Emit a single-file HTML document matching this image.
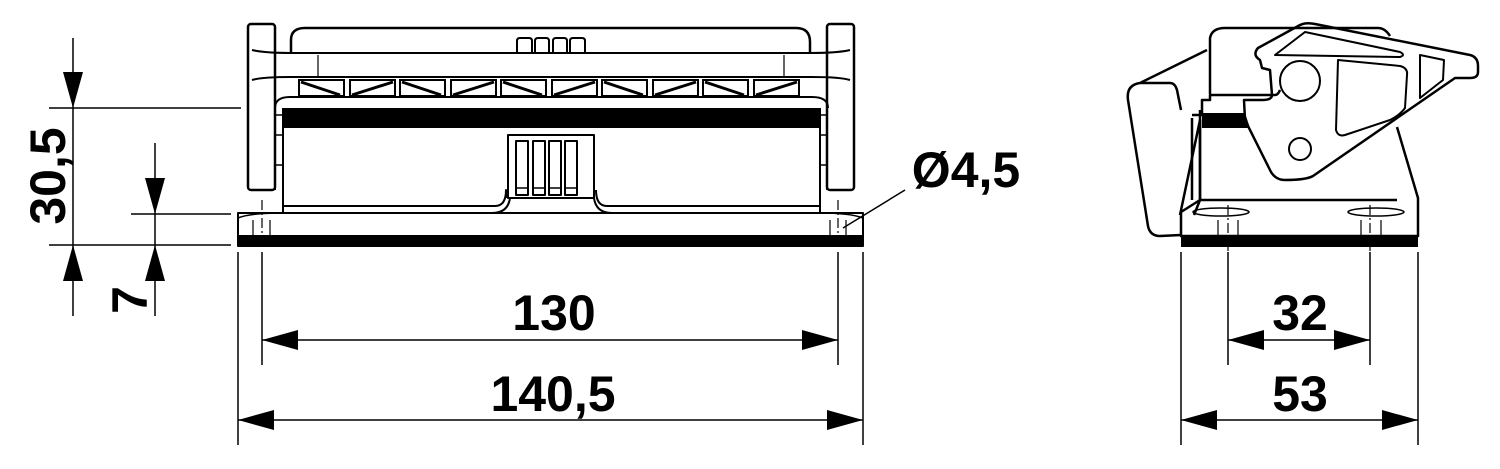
<!DOCTYPE html>
<html><head><meta charset="utf-8"><style>
html,body{margin:0;padding:0;background:#fff;}
svg{display:block}
text{font-family:"Liberation Sans",Arial,sans-serif;font-weight:bold;fill:#000}
</style></head><body>
<svg width="1500" height="469" viewBox="0 0 1500 469" xmlns="http://www.w3.org/2000/svg">
<defs>
<marker id="a" viewBox="0 0 36 20" refX="36" refY="10" markerWidth="36" markerHeight="20" markerUnits="userSpaceOnUse" orient="auto"><path d="M0,0 L36,10 L0,20 Z" fill="#000"/></marker>
</defs>
<g stroke="#000" stroke-width="1.5" fill="none">
<line x1="49" y1="108" x2="241" y2="108"/>
<line x1="49" y1="245" x2="231" y2="245"/>
<line x1="73" y1="38" x2="73" y2="108" marker-end="url(#a)"/>
<line x1="73" y1="316" x2="73" y2="245" marker-end="url(#a)"/>
<line x1="73" y1="108" x2="73" y2="245"/>
<line x1="131" y1="214" x2="231" y2="214"/>
<line x1="155" y1="143" x2="155" y2="214" marker-end="url(#a)"/>
<line x1="155" y1="316" x2="155" y2="245" marker-end="url(#a)"/>
<line x1="155" y1="214" x2="155" y2="245"/>
<line x1="238" y1="252" x2="238" y2="445"/>
<line x1="863" y1="252" x2="863" y2="445"/>
<line x1="262" y1="252" x2="262" y2="365"/>
<line x1="838" y1="252" x2="838" y2="365"/>
<line x1="550" y1="340" x2="262" y2="340" marker-end="url(#a)"/>
<line x1="550" y1="340" x2="838" y2="340" marker-end="url(#a)"/>
<line x1="550" y1="420" x2="238" y2="420" marker-end="url(#a)"/>
<line x1="550" y1="420" x2="863" y2="420" marker-end="url(#a)"/>
<line x1="1181" y1="252" x2="1181" y2="445"/>
<line x1="1418" y1="252" x2="1418" y2="445"/>
<line x1="1228" y1="252" x2="1228" y2="365"/>
<line x1="1370" y1="252" x2="1370" y2="365"/>
<line x1="1300" y1="340" x2="1228" y2="340" marker-end="url(#a)"/>
<line x1="1300" y1="340" x2="1370" y2="340" marker-end="url(#a)"/>
<line x1="1300" y1="420" x2="1181" y2="420" marker-end="url(#a)"/>
<line x1="1300" y1="420" x2="1418" y2="420" marker-end="url(#a)"/>
<line x1="905" y1="190" x2="843" y2="228"/>
</g>
<text x="48" y="176" font-size="50" text-anchor="middle" transform="rotate(-90 48 176)" dominant-baseline="central">30,5</text>
<text x="130" y="300" font-size="50" text-anchor="middle" transform="rotate(-90 130 300)" dominant-baseline="central">7</text>
<text x="554" y="330" font-size="50" text-anchor="middle">130</text>
<text x="553" y="411" font-size="50" text-anchor="middle">140,5</text>
<text x="966" y="187" font-size="50" text-anchor="middle">Ø4,5</text>
<text x="1300" y="330" font-size="50" text-anchor="middle">32</text>
<text x="1300" y="411" font-size="50" text-anchor="middle">53</text>

<g stroke="#000" stroke-width="2.5" fill="none" stroke-linejoin="round">
<rect x="248" y="24" width="27" height="166" rx="3"/>
<rect x="827" y="24" width="27" height="166" rx="3"/>
<path d="M291,53 L291,40 Q291,28 305,28 L796,28 Q810,28 810,42 L810,53"/>
<path d="M252,50 Q265,53 291,53 L810,53 Q838,53 850,50" stroke-width="2"/>
<path d="M252,80 Q262,77 290,77 L812,77 Q840,77 850,80" stroke-width="2"/>
<line x1="318" y1="55" x2="318" y2="77" stroke-width="1.2"/>
<line x1="784" y1="55" x2="784" y2="77" stroke-width="1.2"/>
<path d="M517,53 V41 Q517,38 520,38 H529 Q532,38 532,41 V53 M535,53 V41 Q535,38 538,38 H546 Q549,38 549,41 V53 M553,53 V41 Q553,38 556,38 H564 Q567,38 567,41 V53 M570,53 V41 Q570,38 573,38 H582 Q585,38 585,41 V53" stroke-width="2"/>
<path d="M275,108 Q275,97 290,97 L812,97 Q828,97 828,108" stroke-width="2"/>
<line x1="275" y1="80" x2="275" y2="190" stroke-width="2"/>
<line x1="827" y1="80" x2="827" y2="190" stroke-width="2"/>
<path d="M283,108 V213 M820,108 V213" stroke-width="2"/>
<path d="M275,115 H283 M275,135 H283 M275,165 H283 M820,115 H827 M820,135 H827 M820,165 H827" stroke-width="1.5"/>
<path d="M283,206 L495,206 Q506,206 506,190 L506,198 M596,190 Q596,206 607,206 L820,206" stroke-width="2"/>
<path d="M283,213 L492,213 Q508,213 510,198 L594,198 Q596,213 612,213 L820,213" stroke-width="2"/>
<rect x="508" y="135" width="86" height="63" stroke-width="2"/>
<g stroke-width="2">
<rect x="516" y="141" width="12" height="54"/><rect x="533" y="141" width="12" height="54"/><rect x="549" y="141" width="12" height="54"/><rect x="565" y="141" width="12" height="54"/>
</g>
<path d="M516,188 H528 M533,188 H545 M549,188 H561 M565,188 H577" stroke-width="1.5"/>
<rect x="238" y="213" width="625" height="33" stroke-width="2"/>
<path d="M238,218 Q250,213 283,213 M820,213 Q850,213 863,218" stroke-width="1.5"/>
</g>
<rect x="283" y="108" width="537" height="20" fill="#000"/>
<rect x="238" y="235" width="625" height="11" fill="#000"/>
<g stroke="#000" stroke-width="2" fill="none">
<rect x="299" y="80" width="45" height="16"/><rect x="350" y="80" width="45" height="16"/><rect x="400" y="80" width="45" height="16"/><rect x="451" y="80" width="45" height="16"/><rect x="501" y="80" width="45" height="16"/><rect x="552" y="80" width="45" height="16"/><rect x="602" y="80" width="45" height="16"/><rect x="653" y="80" width="45" height="16"/><rect x="703" y="80" width="45" height="16"/><rect x="754" y="80" width="45" height="16"/>
<g stroke-width="3">
<path d="M301,82 L340,95 M393,82 L352,95 M402,82 L441,95 M494,82 L453,95 M503,82 L542,95 M595,82 L554,95 M604,82 L643,95 M696,82 L655,95 M705,82 L744,95 M797,82 L756,95"/>
</g>
</g>
<g stroke="#000" stroke-width="1.2">
<line x1="262" y1="200" x2="262" y2="246" stroke-dasharray="10,3,2,3"/>
<line x1="838" y1="200" x2="838" y2="246" stroke-dasharray="10,3,2,3"/>
<line x1="253" y1="220" x2="253" y2="246"/><line x1="270" y1="220" x2="270" y2="246"/>
<line x1="830" y1="220" x2="830" y2="246"/><line x1="846" y1="220" x2="846" y2="246"/>
</g>

<g stroke="#000" stroke-width="2.5" fill="none" stroke-linejoin="round">
<path d="M1140,83 L1207,50 M1181,235 L1160,236 Q1150,236 1148,226 L1128,100 Q1126,85 1140,83 L1170,83 Q1175,83 1177,90 L1181,110"/>
<path d="M1210,94 L1210,38 Q1212,28 1225,28 L1378,28 Q1385,28 1390,36"/>
<path d="M1192,118 L1192,200 M1200,110 L1200,200 M1192,115 H1202 V100 H1210 V95 L1275,95 Q1278,95 1280,90"/>
<path d="M1194,215 L1200,200 L1200,120 L1180,215"/>
<path d="M1397,127 L1418,198 L1418,236 L1181,236 L1181,212 L1200,200 L1397,200"/>
<path d="M1260,60 Q1252,55 1258,48 L1300,25 Q1306,22 1315,24 L1470,55 Q1478,57 1478,66 L1478,72 Q1478,78 1470,78 L1455,78 L1313,176 Q1306,180 1285,180 Q1276,180 1271,172 L1245,120 L1244,100 L1262,100 Q1272,100 1272,95 L1270,70 L1262,68 Z"/>
<path d="M1275,55 L1305,32 L1400,52 Q1406,55 1400,57 Z" stroke-width="2"/>
<path d="M1338,60 L1400,66 Q1408,68 1407,75 L1405,108 Q1400,115 1390,120 L1345,135 Q1338,137 1336,130 Z" stroke-width="2"/>
<path d="M1420,55 L1444,60 L1443,80 L1420,98 Z" stroke-width="2"/>
<circle cx="1300" cy="81" r="20" stroke-width="2"/>
<circle cx="1300" cy="149" r="11" stroke-width="2"/>
<ellipse cx="1221" cy="212" rx="28" ry="4" stroke-width="1.5"/>
<ellipse cx="1376" cy="212" rx="28" ry="4" stroke-width="1.5"/>
</g>
<polygon points="1202,113 1245,113 1250,128 1202,128" fill="#000"/>
<rect x="1181" y="235" width="237" height="12" fill="#000"/>
<g stroke="#000" stroke-width="1.2">
<line x1="1228" y1="205" x2="1228" y2="252" stroke-dasharray="10,3,2,3"/>
<line x1="1370" y1="205" x2="1370" y2="252" stroke-dasharray="10,3,2,3"/>
<line x1="1218" y1="220" x2="1218" y2="246"/><line x1="1238" y1="220" x2="1238" y2="246"/>
<line x1="1361" y1="220" x2="1361" y2="246"/><line x1="1381" y1="220" x2="1381" y2="246"/>
</g>
</svg>
</body></html>
